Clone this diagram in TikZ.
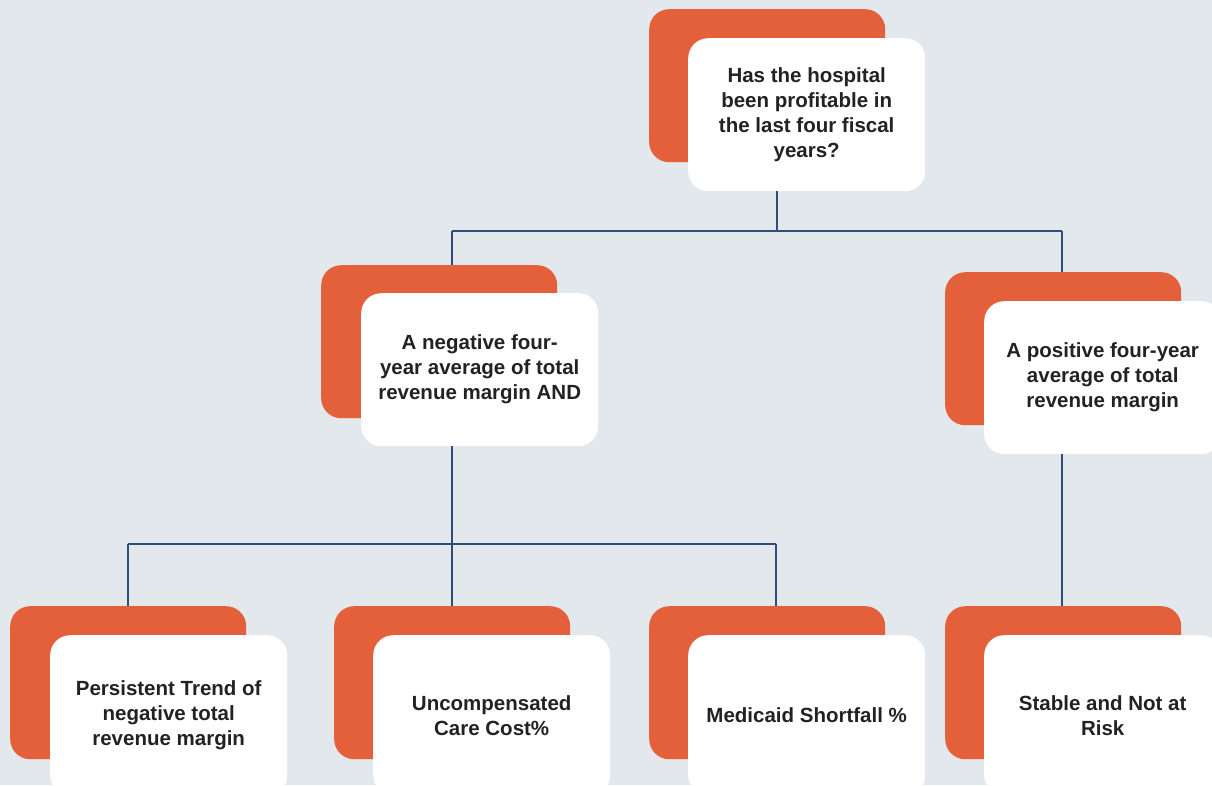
\documentclass[tikz,border=0pt]{standalone}
\usepackage{fontspec}
\setmainfont{Liberation Sans}
\definecolor{bgc}{RGB}{227,232,236}
\definecolor{orangec}{RGB}{228,96,58}
\definecolor{linec}{RGB}{47,78,122}
\definecolor{textc}{RGB}{34,34,34}
\tikzset{
  backbox/.style={fill=orangec, draw=none, rounded corners=20pt, minimum width=236pt, minimum height=153pt, inner sep=0pt, anchor=north west},
  frontbox/.style={fill=white, draw=none, rounded corners=20pt, minimum width=237pt, minimum height=153pt, inner sep=0pt, anchor=north west, align=center, text=textc, font=\fontsize{20.5}{25}\selectfont\bfseries},
  lowbox/.style={frontbox, minimum height=160pt},
  conn/.style={draw=linec, line width=1.8pt}
}
\begin{document}
\begin{tikzpicture}[x=1pt,y=-1pt]
\fill[bgc] (0,0) rectangle (1212,785);
\useasboundingbox (0,0) rectangle (1212,785);
\clip (0,0) rectangle (1212,785);
% junction coordinates
\coordinate (jT) at (777,231);
\coordinate (jA) at (452,231);
\coordinate (jB) at (1062,231);
\coordinate (jL) at (452,544);
\coordinate (jl1) at (128,544);
\coordinate (jl3) at (776,544);
% boxes
\node[backbox] (qo) at (649,9) {};
\node[frontbox] (q) at (688,38) {Has the hospital\\been profitable in\\the last four fiscal\\years?};
\node[backbox] (Lo) at (321,265) {};
\node[backbox] (Ro) at (945,272) {};
\node[backbox] (b1o) at (10,606) {};
\node[backbox] (b2o) at (334,606) {};
\node[backbox] (b3o) at (649,606) {};
\node[backbox] (b4o) at (945,606) {};
% connectors
\draw[conn] (jT |- q.south) -- (jT);
\draw[conn] (jA) -- (jB);
\draw[conn] (jA) -- (jA |- Lo.north);
\draw[conn] (jB) -- (jB |- Ro.north);
\draw[conn] (jl1) -- (jl3);
\draw[conn] (jl1) -- (jl1 |- b1o.north);
\draw[conn] (jL) -- (jL |- b2o.north);
\draw[conn] (jl3) -- (jl3 |- b3o.north);
% front boxes
\node[frontbox] (L) at (361,293) {A negative four-\\year average of total\\revenue margin AND};
\node[frontbox] (R) at (984,301) {A positive four-year\\average of total\\revenue margin};
\node[lowbox] (b1) at (50,635) {Persistent Trend of\\negative total\\revenue margin};
\node[lowbox] (b2) at (373,635) {Uncompensated\\Care Cost\%};
\node[lowbox] (b3) at (688,635) {Medicaid Shortfall \%};
\node[lowbox] (b4) at (984,635) {Stable and Not at\\Risk};
\draw[conn] (jL |- L.south) -- (jL);
\draw[conn] (jB |- R.south) -- (jB |- b4o.north);
\end{tikzpicture}
\end{document}
